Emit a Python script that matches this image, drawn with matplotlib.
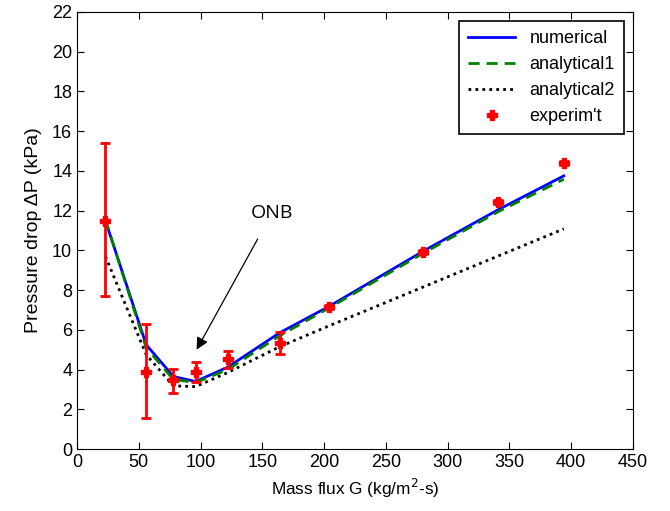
import numpy as np
import matplotlib
matplotlib.use("Agg")
import matplotlib.pyplot as plt
from matplotlib.lines import Line2D

# Mass flux values (kg/m^2-s) and pressure drop (kPa)
G = [23, 56, 78, 96, 122, 164, 204, 280, 341, 394]
dp_numerical = [11.5, 5.25, 3.65, 3.4, 4.12, 5.85, 7.18, 9.95, 12.05, 13.75]
dp_analytical1 = [11.55, 5.1, 3.5, 3.35, 4.0, 5.7, 7.1, 9.85, 11.95, 13.58]
dp_analytical2 = [9.7, 4.75, 3.18, 3.14, 3.85, 5.15, 6.2, 8.15, 9.72, 11.08]

G_exp = [23, 56, 78, 96, 122, 164, 204, 280, 341, 394]
dp_exp = [11.5, 3.9, 3.47, 3.86, 4.52, 5.35, 7.13, 9.9, 12.42, 14.38]
err_low = [3.8, 2.35, 0.67, 0.5, 0.46, 0.58, 0.1, 0.1, 0.1, 0.1]
err_high = [3.9, 2.4, 0.58, 0.5, 0.43, 0.54, 0.1, 0.1, 0.1, 0.1]

plt.rcParams['font.family'] = ['Liberation Sans', 'DejaVu Sans']

fig = plt.figure(figsize=(6.7, 5.11), dpi=100)
ax = fig.add_axes([77 / 670, 62 / 511, 556 / 670, 437 / 511])

h_num, = ax.plot(G, dp_numerical, color='#0000ff', lw=2)
h_an1, = ax.plot(G, dp_analytical1, color='#008000', lw=2, ls=(0, (4, 2.5)))
h_an2, = ax.plot(G, dp_analytical2, color='black', lw=2, ls=(0, (1, 1.5)))
ax.errorbar(G_exp, dp_exp, yerr=[err_low, err_high], fmt='P', color='#ff0000',
            ms=7, elinewidth=2, capsize=3.3, capthick=2)
h_exp = Line2D([], [], marker='P', ls='none', color='#ff0000', ms=7)

ax.annotate('ONB', xy=(96.8, 5.0), xytext=(158, 11.9), fontsize=14,
            family='Open Sans', ha='center', va='center',
            arrowprops=dict(arrowstyle='-|>', color='black', lw=0.9,
                            mutation_scale=18, shrinkA=12, shrinkB=0))

ax.set_xlim(0, 450)
ax.set_ylim(0, 22)
ax.set_xticks(np.arange(0, 451, 50))
ax.set_yticks(np.arange(0, 23, 2))
ax.tick_params(direction='in', top=True, right=True, labelsize=13, length=5)
ax.set_xlabel('Mass flux G (kg/m$^2$-s)', fontsize=12.4)
ax.set_ylabel('Pressure drop \u0394P (kPa)', fontsize=14, labelpad=7.5)

leg = ax.legend([h_num, h_an1, h_an2, h_exp],
                ['numerical', 'analytical1', 'analytical2', "experim't"],
                loc='upper right', fontsize=13, fancybox=False, framealpha=1,
                edgecolor='black', borderaxespad=0.5, handlelength=2.6,
                labelspacing=0.5, borderpad=0.5)
leg.get_frame().set_linewidth(1.2)

fig.savefig('out.png', dpi=100)
